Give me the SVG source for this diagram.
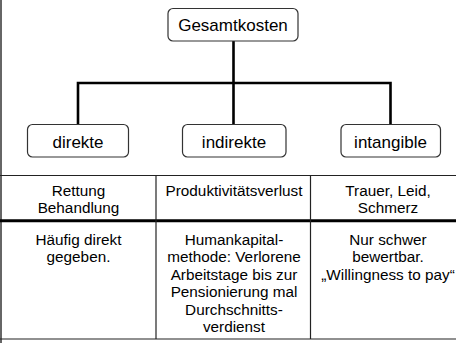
<svg xmlns="http://www.w3.org/2000/svg" width="456" height="343" viewBox="0 0 456 343">
<style>
.node rect{fill:#fff;stroke:#333;stroke-width:1.2}
.lbl{font-family:"Liberation Sans",Arial,sans-serif;font-size:17px;fill:#000;text-anchor:middle}
.cell{font-family:"Liberation Sans",Arial,sans-serif;font-size:15.3px;fill:#000;text-anchor:middle}
.conn{fill:none;stroke:#000;stroke-width:2.6}
.grid{stroke:#222;stroke-width:1.2;fill:none}
</style>
<rect x="0" y="0" width="456" height="343" fill="#fff"/>
<line x1="1" y1="0" x2="1" y2="343" stroke="#666" stroke-width="2"/>
<g id="connectors">
<path class="conn" d="M233.5 41V83M78 124.5V83H390.5V124.5M233.5 83V124.5"/>
</g>
<g id="gesamtkosten" class="node">
<rect x="168" y="8.5" width="130" height="32.5" rx="5"/>
<text class="lbl" x="233" y="31">Gesamtkosten</text>
</g>
<g id="direkte" class="node">
<rect x="27.5" y="124.5" width="101" height="32.5" rx="5"/>
<text class="lbl" x="78" y="147.5">direkte</text>
</g>
<g id="indirekte" class="node">
<rect x="182.5" y="124.5" width="103.5" height="32.5" rx="5"/>
<text class="lbl" x="234" y="147.5">indirekte</text>
</g>
<g id="intangible" class="node">
<rect x="341" y="124.5" width="99.5" height="32.5" rx="5"/>
<text class="lbl" x="390.5" y="147.5">intangible</text>
</g>
<g id="table">
<line class="grid" x1="0" y1="175.5" x2="456" y2="175.5"/>
<line x1="0" y1="220.8" x2="456" y2="220.8" stroke="#000" stroke-width="3"/>
<line class="grid" x1="0" y1="339" x2="456" y2="339"/>
<line class="grid" x1="156" y1="175.5" x2="156" y2="339"/>
<line class="grid" x1="310.5" y1="175.5" x2="310.5" y2="339"/>
<text class="cell" x="78.5" y="195.5">Rettung</text>
<text class="cell" x="78.5" y="213">Behandlung</text>
<text class="cell" x="234" y="195.5">Produktivitätsverlust</text>
<text class="cell" x="388" y="195.5">Trauer, Leid,</text>
<text class="cell" x="388" y="213">Schmerz</text>
<text class="cell" x="78.5" y="244.5">Häufig direkt</text>
<text class="cell" x="78.5" y="262">gegeben.</text>
<text class="cell" x="234" y="244.5">Humankapital-</text>
<text class="cell" x="234" y="262">methode: Verlorene</text>
<text class="cell" x="234" y="279.5">Arbeitstage bis zur</text>
<text class="cell" x="234" y="297">Pensionierung mal</text>
<text class="cell" x="234" y="314.5">Durchschnitts-</text>
<text class="cell" x="234" y="332">verdienst</text>
<text class="cell" x="388" y="244.5">Nur schwer</text>
<text class="cell" x="388" y="262">bewertbar.</text>
<text class="cell" x="388" y="279.5">„Willingness to pay“</text>
</g>
</svg>
